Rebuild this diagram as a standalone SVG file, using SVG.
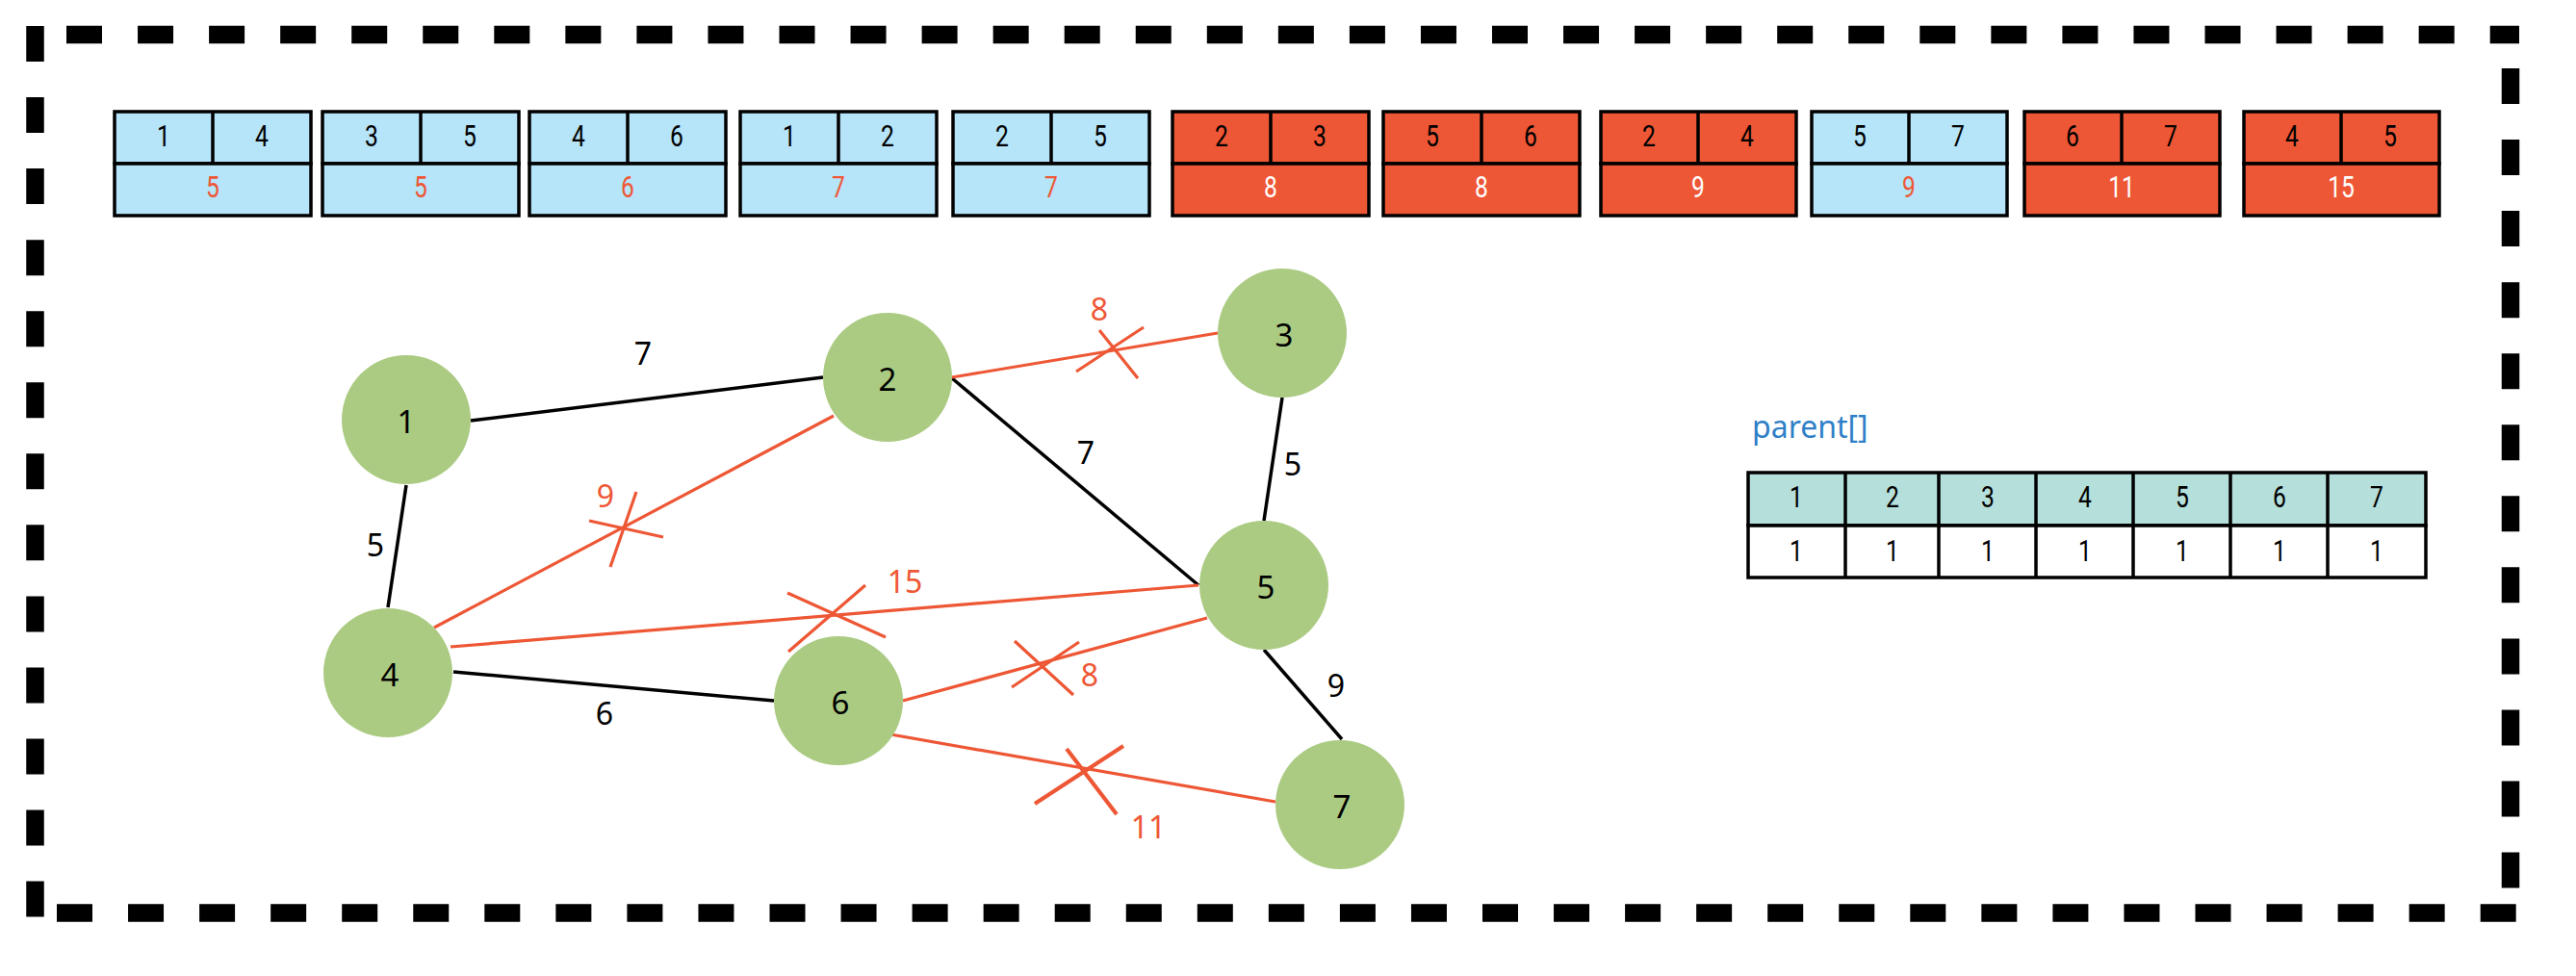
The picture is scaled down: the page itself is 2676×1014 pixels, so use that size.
<svg xmlns="http://www.w3.org/2000/svg" width="2676" height="1014" viewBox="0 0 2676 1014">
<style>
.border{stroke:#000;stroke-width:18.5;stroke-dasharray:37 37.05;fill:none}
.cell{stroke:#000;stroke-width:3.5}
.blue{fill:#B6E4F9}
.red{fill:#EE5735}
.nar{font-family:Roboto,"Liberation Sans",sans-serif;font-size:32px;text-anchor:middle}
.k{fill:#000}
.rt{fill:#EE5735}
.wt{fill:#fff}
.node circle{fill:#ABCB83}
.node text{font-family:"Noto Sans","DejaVu Sans",sans-serif;font-size:33px;text-anchor:middle;fill:#000}
.lbl{font-family:"Noto Sans","DejaVu Sans",sans-serif;font-size:32px;text-anchor:middle}
.e{stroke:#000;stroke-width:3.5;fill:none}
.re{stroke:#EE5735;stroke-width:3.2;fill:none}
.hd{fill:#B5DFDB}
</style>
<rect width="2676" height="1014" fill="#fff"/>
<g id="frame">
<line class="border" x1="69" y1="36" x2="2617" y2="36"/>
<line class="border" x1="36.5" y1="27" x2="36.5" y2="953"/>
<line class="border" x1="2608" y1="71" x2="2608" y2="940"/>
<line class="border" x1="59" y1="948.5" x2="2617" y2="948.5"/>
</g>
<g id="edge-list">
<g id="e14"><rect class="cell blue" x="119" y="116" width="204" height="54"/><rect class="cell blue" x="119" y="170" width="204" height="54"/><line class="cell" x1="221" y1="116" x2="221" y2="170"/><text class="nar k" transform="translate(170 152) scale(0.77 1)">1</text><text class="nar k" transform="translate(272 152) scale(0.77 1)">4</text><text class="nar rt" transform="translate(221 205) scale(0.77 1)">5</text></g>
<g id="e35"><rect class="cell blue" x="335" y="116" width="204" height="54"/><rect class="cell blue" x="335" y="170" width="204" height="54"/><line class="cell" x1="437" y1="116" x2="437" y2="170"/><text class="nar k" transform="translate(386 152) scale(0.77 1)">3</text><text class="nar k" transform="translate(488 152) scale(0.77 1)">5</text><text class="nar rt" transform="translate(437 205) scale(0.77 1)">5</text></g>
<g id="e46"><rect class="cell blue" x="550" y="116" width="204" height="54"/><rect class="cell blue" x="550" y="170" width="204" height="54"/><line class="cell" x1="652" y1="116" x2="652" y2="170"/><text class="nar k" transform="translate(601 152) scale(0.77 1)">4</text><text class="nar k" transform="translate(703 152) scale(0.77 1)">6</text><text class="nar rt" transform="translate(652 205) scale(0.77 1)">6</text></g>
<g id="e12"><rect class="cell blue" x="769" y="116" width="204" height="54"/><rect class="cell blue" x="769" y="170" width="204" height="54"/><line class="cell" x1="871" y1="116" x2="871" y2="170"/><text class="nar k" transform="translate(820 152) scale(0.77 1)">1</text><text class="nar k" transform="translate(922 152) scale(0.77 1)">2</text><text class="nar rt" transform="translate(871 205) scale(0.77 1)">7</text></g>
<g id="e25"><rect class="cell blue" x="990" y="116" width="204" height="54"/><rect class="cell blue" x="990" y="170" width="204" height="54"/><line class="cell" x1="1092" y1="116" x2="1092" y2="170"/><text class="nar k" transform="translate(1041 152) scale(0.77 1)">2</text><text class="nar k" transform="translate(1143 152) scale(0.77 1)">5</text><text class="nar rt" transform="translate(1092 205) scale(0.77 1)">7</text></g>
<g id="e23"><rect class="cell red" x="1218" y="116" width="204" height="54"/><rect class="cell red" x="1218" y="170" width="204" height="54"/><line class="cell" x1="1320" y1="116" x2="1320" y2="170"/><text class="nar k" transform="translate(1269 152) scale(0.77 1)">2</text><text class="nar k" transform="translate(1371 152) scale(0.77 1)">3</text><text class="nar wt" transform="translate(1320 205) scale(0.77 1)">8</text></g>
<g id="e56"><rect class="cell red" x="1437" y="116" width="204" height="54"/><rect class="cell red" x="1437" y="170" width="204" height="54"/><line class="cell" x1="1539" y1="116" x2="1539" y2="170"/><text class="nar k" transform="translate(1488 152) scale(0.77 1)">5</text><text class="nar k" transform="translate(1590 152) scale(0.77 1)">6</text><text class="nar wt" transform="translate(1539 205) scale(0.77 1)">8</text></g>
<g id="e24"><rect class="cell red" x="1663" y="116" width="203" height="54"/><rect class="cell red" x="1663" y="170" width="203" height="54"/><line class="cell" x1="1764" y1="116" x2="1764" y2="170"/><text class="nar k" transform="translate(1713 152) scale(0.77 1)">2</text><text class="nar k" transform="translate(1815 152) scale(0.77 1)">4</text><text class="nar wt" transform="translate(1764 205) scale(0.77 1)">9</text></g>
<g id="e57"><rect class="cell blue" x="1882" y="116" width="203" height="54"/><rect class="cell blue" x="1882" y="170" width="203" height="54"/><line class="cell" x1="1983" y1="116" x2="1983" y2="170"/><text class="nar k" transform="translate(1932 152) scale(0.77 1)">5</text><text class="nar k" transform="translate(2034 152) scale(0.77 1)">7</text><text class="nar rt" transform="translate(1983 205) scale(0.77 1)">9</text></g>
<g id="e67"><rect class="cell red" x="2103" y="116" width="203" height="54"/><rect class="cell red" x="2103" y="170" width="203" height="54"/><line class="cell" x1="2204" y1="116" x2="2204" y2="170"/><text class="nar k" transform="translate(2153 152) scale(0.77 1)">6</text><text class="nar k" transform="translate(2255 152) scale(0.77 1)">7</text><text class="nar wt" transform="translate(2204 205) scale(0.77 1)">11</text></g>
<g id="e45"><rect class="cell red" x="2331" y="116" width="203" height="54"/><rect class="cell red" x="2331" y="170" width="203" height="54"/><line class="cell" x1="2432" y1="116" x2="2432" y2="170"/><text class="nar k" transform="translate(2381 152) scale(0.77 1)">4</text><text class="nar k" transform="translate(2483 152) scale(0.77 1)">5</text><text class="nar wt" transform="translate(2432 205) scale(0.77 1)">15</text></g>
</g>
<g id="connectors">
<line class="e" x1="489" y1="437" x2="855" y2="392"/>
<line class="e" x1="422" y1="504" x2="403" y2="631"/>
<line class="e" x1="471" y1="698" x2="804" y2="728"/>
<line class="e" x1="989" y1="393" x2="1245" y2="608"/>
<line class="e" x1="1332" y1="413" x2="1313" y2="541"/>
<line class="e" x1="1313" y1="675" x2="1394" y2="768"/>
<line class="re" x1="989" y1="392" x2="1265" y2="346"/>
<line class="re" x1="1118" y1="386" x2="1188" y2="340"/>
<line class="re" x1="1142" y1="343" x2="1182" y2="393"/>
<line class="re" x1="866" y1="432" x2="451" y2="652"/>
<line class="re" x1="612" y1="541" x2="689" y2="558"/>
<line class="re" x1="661" y1="511" x2="634" y2="589"/>
<line class="re" x1="468" y1="672" x2="1245" y2="608"/>
<line class="re" x1="818" y1="616" x2="920" y2="662"/>
<line class="re" x1="899" y1="608" x2="819" y2="677"/>
<line class="re" x1="938" y1="728" x2="1254" y2="642"/>
<line class="re" x1="1054" y1="666" x2="1115" y2="722"/>
<line class="re" x1="1121" y1="667" x2="1051" y2="714"/>
<line class="re" x1="925" y1="763" x2="1325" y2="833"/>
<line class="re" style="stroke-width:4.2" x1="1075" y1="835" x2="1167" y2="775"/>
<line class="re" style="stroke-width:4.2" x1="1108" y1="778" x2="1160" y2="846"/>
<text class="lbl k" x="668" y="379">7</text>
<text class="lbl k" x="390" y="578">5</text>
<text class="lbl k" x="628" y="753">6</text>
<text class="lbl k" x="1128" y="482">7</text>
<text class="lbl k" x="1343" y="494">5</text>
<text class="lbl k" x="1388" y="724">9</text>
<text class="lbl rt" x="1142" y="333">8</text>
<text class="lbl rt" x="629" y="527">9</text>
<text class="lbl rt" x="940" y="616">15</text>
<text class="lbl rt" x="1132" y="713">8</text>
<text class="lbl rt" x="1193" y="871">11</text>
</g>
<g id="node1" class="node"><circle cx="422" cy="436" r="67"/><text x="422" y="450">1</text></g>
<g id="node2" class="node"><circle cx="922" cy="392" r="67"/><text x="922" y="406">2</text></g>
<g id="node3" class="node"><circle cx="1332" cy="346" r="67"/><text x="1334" y="360">3</text></g>
<g id="node4" class="node"><circle cx="403" cy="699" r="67"/><text x="405" y="713">4</text></g>
<g id="node5" class="node"><circle cx="1313" cy="608" r="67"/><text x="1315" y="622">5</text></g>
<g id="node6" class="node"><circle cx="871" cy="728" r="67"/><text x="873" y="742">6</text></g>
<g id="node7" class="node"><circle cx="1392" cy="836" r="67"/><text x="1394" y="850">7</text></g>
<g id="parent">
<text x="1820" y="455" style="font-family:'Noto Sans','DejaVu Sans',sans-serif;font-size:32px;fill:#2F7FC7">parent[]</text>
<rect class="hd cell" x="1816" y="491" width="704" height="55"/>
<rect fill="#fff" class="cell" x="1816" y="546" width="704" height="54"/>
<line class="cell" x1="1917" y1="491" x2="1917" y2="600"/>
<line class="cell" x1="2014" y1="491" x2="2014" y2="600"/>
<line class="cell" x1="2115" y1="491" x2="2115" y2="600"/>
<line class="cell" x1="2216" y1="491" x2="2216" y2="600"/>
<line class="cell" x1="2317" y1="491" x2="2317" y2="600"/>
<line class="cell" x1="2418" y1="491" x2="2418" y2="600"/>
<text class="nar k" transform="translate(1866 527) scale(0.77 1)">1</text><text class="nar k" transform="translate(1966 527) scale(0.77 1)">2</text><text class="nar k" transform="translate(2065 527) scale(0.77 1)">3</text><text class="nar k" transform="translate(2166 527) scale(0.77 1)">4</text><text class="nar k" transform="translate(2267 527) scale(0.77 1)">5</text><text class="nar k" transform="translate(2368 527) scale(0.77 1)">6</text><text class="nar k" transform="translate(2469 527) scale(0.77 1)">7</text>
<text class="nar k" transform="translate(1866 583) scale(0.77 1)">1</text><text class="nar k" transform="translate(1966 583) scale(0.77 1)">1</text><text class="nar k" transform="translate(2065 583) scale(0.77 1)">1</text><text class="nar k" transform="translate(2166 583) scale(0.77 1)">1</text><text class="nar k" transform="translate(2267 583) scale(0.77 1)">1</text><text class="nar k" transform="translate(2368 583) scale(0.77 1)">1</text><text class="nar k" transform="translate(2469 583) scale(0.77 1)">1</text>
</g>
</svg>
